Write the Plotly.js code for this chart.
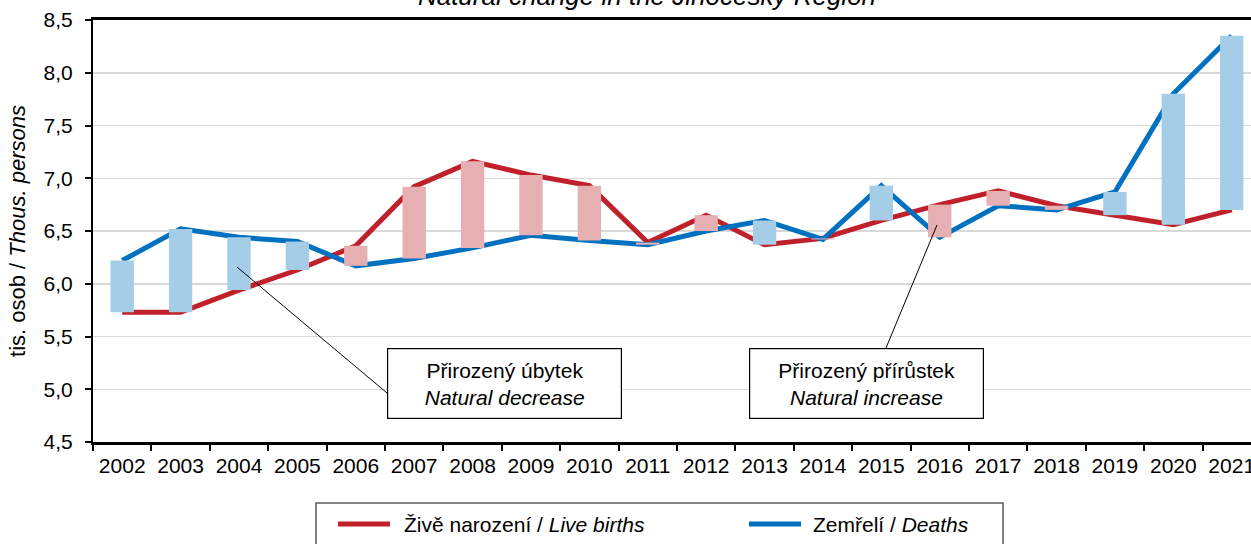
<!DOCTYPE html>
<html>
<head>
<meta charset="utf-8">
<script src="https://cdn.plot.ly/plotly-3.0.1.min.js"></script>
<style>html,body{margin:0;padding:0;background:#fff;}#chart{width:1251px;height:544px;}</style>
</head>
<body>
<div id="chart"></div>
<script>
const years = ['2002','2003','2004','2005','2006','2007','2008','2009','2010','2011','2012','2013','2014','2015','2016','2017','2018','2019','2020','2021'];
const births = [5.73,5.73,5.94,6.13,6.36,6.92,7.16,7.03,6.93,6.39,6.65,6.37,6.43,6.60,6.75,6.88,6.74,6.65,6.56,6.70];
const deaths = [6.22,6.52,6.44,6.40,6.17,6.24,6.34,6.46,6.41,6.37,6.50,6.60,6.42,6.93,6.44,6.74,6.70,6.87,7.80,8.35];
const yTicks = [4.5,5.0,5.5,6.0,6.5,7.0,7.5,8.0,8.5];

const W = 1251, H = 544;
const L = 93, R = 0, T = 20, B = 102;
const PW = W - L - R, PH = H - T - B;
const px = x => (x - L) / PW;
const py = y => (H - B - y) / PH;

const FONT = 'Liberation Sans, Arial, sans-serif';
const RED = '#C0202A', BLUE = '#0070C0';
const LBLUE = '#A6CDE7', PINK = '#E6AFB1';

const base = births.map((b, i) => Math.min(b, deaths[i]));
const diff = births.map((b, i) => Math.abs(deaths[i] - b));
const barColors = births.map((b, i) => deaths[i] > b ? LBLUE : PINK);

const xr = [-0.5, 19.33];

const traces = [
  {type:'scatter', mode:'lines', x: years, y: births, name:'Živě narození / Live births',
   line:{color:RED, width:5}, showlegend:false, hoverinfo:'skip'},
  {type:'scatter', mode:'lines', x: years, y: deaths, name:'Zemřelí / Deaths',
   line:{color:BLUE, width:5}, showlegend:false, hoverinfo:'skip'},
  {type:'bar', x: years, y: diff, base: base, width: 0.4, xaxis:'x2', yaxis:'y2',
   marker:{color: barColors, line:{width:0}}, showlegend:false, hoverinfo:'skip'}
];

const layout = {
  width: W, height: H,
  margin:{l:L, r:R, t:T, b:B, pad:0},
  paper_bgcolor:'#fff', plot_bgcolor:'#fff',
  separators: ', ',
  font:{family:FONT, size:21, color:'#000'},
  showlegend:false,
  title:{text:'<i>Natural change in the Jihočeský Region</i>', font:{family:FONT, size:26, color:'#000'},
         x: 647/W, xanchor:'center', xref:'container', y: 1 - 5/H, yanchor:'bottom', yref:'container'},
  xaxis:{type:'category', range: xr, showline:true, linecolor:'#000', linewidth:3, mirror:true,
         ticks:'outside', ticklen:6, tickwidth:2, tickcolor:'#000', tickson:'boundaries',
         showgrid:false, zeroline:false, tickfont:{size:21}, ticklabelstandoff:3, fixedrange:true},
  yaxis:{range:[4.5,8.5], tickvals: yTicks, tickformat:'.1f', showline:true, linecolor:'#000', linewidth:2,
         ticks:'outside', ticklen:6, tickwidth:2, tickcolor:'#000',
         showgrid:true, gridcolor:'#D9D9D9', gridwidth:1.5, zeroline:false, tickfont:{size:21},
         ticklabelstandoff:8,
         title:{text:'tis. osob / <i>Thous. persons</i>', font:{size:22}, standoff:12}, fixedrange:true},
  xaxis2:{type:'category', range: xr, overlaying:'x', visible:false, fixedrange:true},
  yaxis2:{range:[4.5,8.5], overlaying:'y', visible:false, fixedrange:true},
  shapes:[
    {type:'line', xref:'paper', yref:'paper', x0:px(237), y0:py(267), x1:px(387), y1:py(393), line:{color:'#000', width:1}},
    {type:'line', xref:'paper', yref:'paper', x0:px(886), y0:py(348), x1:px(937), y1:py(225), line:{color:'#000', width:1}},
    {type:'rect', xref:'paper', yref:'paper', x0:px(316), x1:px(1003), y0:py(570), y1:py(503), line:{color:'#595959', width:1.5}, fillcolor:'rgba(0,0,0,0)'},
    {type:'line', xref:'paper', yref:'paper', x0:px(338), x1:px(390), y0:py(524), y1:py(524), line:{color:RED, width:5}},
    {type:'line', xref:'paper', yref:'paper', x0:px(749), x1:px(801), y0:py(524), y1:py(524), line:{color:BLUE, width:5}}
  ],
  annotations:[
    {xref:'paper', yref:'paper', x:px(504.5), y:py(383.5), xanchor:'center', yanchor:'middle', showarrow:false,
     text:'Přirozený úbytek<br><i>Natural decrease</i>', font:{size:21}, align:'center',
     width:231, height:67, bgcolor:'#fff', bordercolor:'#000', borderwidth:1.2, borderpad:1},
    {xref:'paper', yref:'paper', x:px(866.5), y:py(383.5), xanchor:'center', yanchor:'middle', showarrow:false,
     text:'Přirozený přírůstek<br><i>Natural increase</i>', font:{size:21}, align:'center',
     width:231, height:67, bgcolor:'#fff', bordercolor:'#000', borderwidth:1.2, borderpad:1},
    {xref:'paper', yref:'paper', x:px(402), y:py(524), xanchor:'left', yanchor:'middle', showarrow:false,
     text:'Živě narození / <i>Live births</i>', font:{size:21}},
    {xref:'paper', yref:'paper', x:px(811), y:py(524), xanchor:'left', yanchor:'middle', showarrow:false,
     text:'Zemřelí / <i>Deaths</i>', font:{size:21}}
  ]
};

Plotly.newPlot('chart', traces, layout, {displayModeBar:false, staticPlot:true});
</script>
</body>
</html>
